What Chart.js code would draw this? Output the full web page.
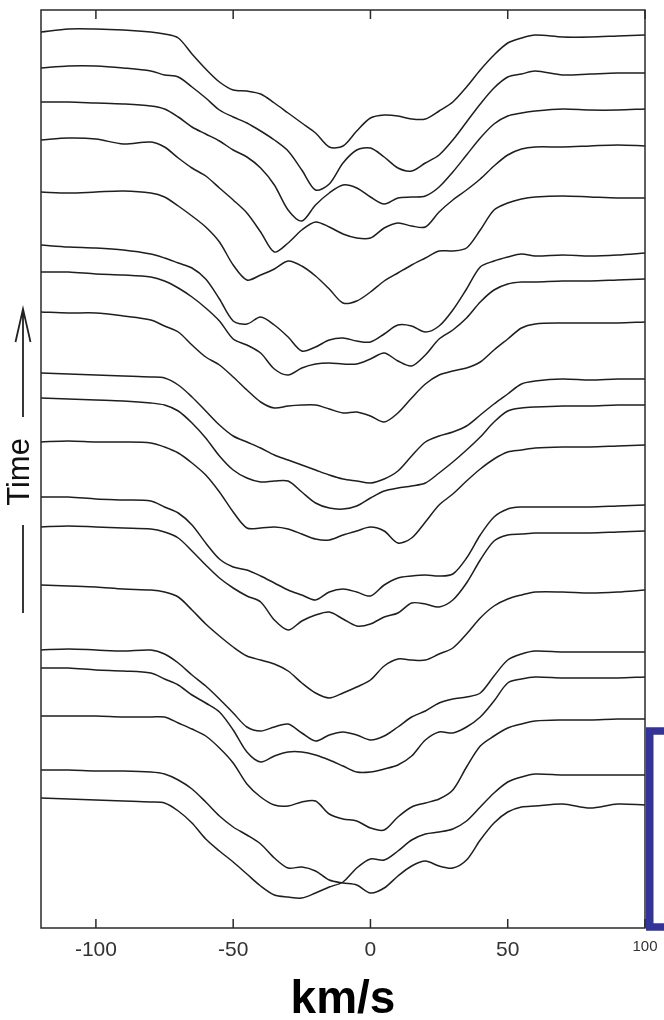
<!DOCTYPE html>
<html>
<head>
<meta charset="utf-8">
<title>Line profile time series</title>
<script src="https://cdn.jsdelivr.net/npm/chart.js@4.4.0/dist/chart.umd.min.js"></script>
<style>
  html, body { margin: 0; padding: 0; background: #fff; }
  canvas { display: block; }
</style>
</head>
<body>
<canvas id="profiles" width="664" height="1020"></canvas>
<script>
// velocity grid (km/s) shared by all profiles
const vel = [-120, -110, -100, -90, -80, -75, -70, -65, -60, -55, -50, -45, -40, -35, -30, -25, -20, -15, -10, -5,
             0, 5, 10, 15, 20, 25, 30, 35, 40, 45, 50, 55, 60, 70, 80, 90, 100];
const velTicks = [-100, -50, 0, 50, 100];

// normalised flux, earliest spectrum at the bottom of the stack
const flux01 = [1.000,1.015,1.015,1.010,1.000,0.990,0.970,0.890,0.815,0.750,0.710,0.705,0.690,0.645,0.595,0.545,0.495,0.425,0.430,0.505,0.570,0.585,0.580,0.565,0.565,0.605,0.650,0.725,0.810,0.885,0.945,0.970,0.985,0.975,0.975,0.980,0.985];
const flux02 = [1.000,1.010,1.010,1.000,0.985,0.965,0.955,0.905,0.850,0.790,0.755,0.725,0.685,0.640,0.585,0.490,0.390,0.420,0.525,0.590,0.600,0.555,0.500,0.485,0.525,0.565,0.640,0.730,0.820,0.900,0.955,0.970,0.985,0.965,0.970,0.975,0.975];
const flux03 = [1.000,1.000,0.995,0.990,0.980,0.965,0.925,0.875,0.840,0.805,0.760,0.725,0.670,0.585,0.460,0.405,0.485,0.545,0.585,0.570,0.525,0.490,0.520,0.525,0.530,0.575,0.650,0.735,0.820,0.890,0.930,0.945,0.955,0.965,0.960,0.960,0.965];
const flux04 = [1.000,1.010,1.005,0.980,0.990,0.965,0.910,0.860,0.820,0.760,0.700,0.635,0.540,0.440,0.485,0.550,0.590,0.565,0.530,0.510,0.510,0.560,0.585,0.570,0.565,0.640,0.700,0.750,0.805,0.870,0.925,0.955,0.965,0.965,0.970,0.975,0.970];
const flux05 = [1.000,0.995,1.000,1.005,0.995,0.975,0.930,0.880,0.825,0.750,0.635,0.560,0.585,0.615,0.655,0.630,0.580,0.515,0.445,0.455,0.500,0.555,0.595,0.635,0.670,0.705,0.705,0.720,0.810,0.910,0.945,0.965,0.975,0.980,0.975,0.970,0.970];
const flux06 = [1.000,0.990,0.985,0.975,0.955,0.935,0.910,0.885,0.830,0.730,0.620,0.605,0.640,0.600,0.540,0.470,0.490,0.525,0.535,0.520,0.515,0.555,0.600,0.595,0.565,0.595,0.675,0.780,0.890,0.920,0.940,0.955,0.945,0.950,0.945,0.950,0.960];
const flux07 = [1.000,1.000,0.990,0.985,0.975,0.955,0.920,0.875,0.820,0.755,0.665,0.635,0.595,0.515,0.485,0.520,0.540,0.545,0.540,0.540,0.565,0.595,0.555,0.530,0.585,0.665,0.710,0.770,0.850,0.910,0.940,0.950,0.950,0.955,0.955,0.960,0.965];
const flux08 = [1.000,0.995,0.995,0.980,0.960,0.930,0.900,0.835,0.775,0.735,0.675,0.610,0.550,0.520,0.530,0.535,0.535,0.515,0.495,0.500,0.480,0.450,0.495,0.570,0.640,0.685,0.705,0.720,0.750,0.810,0.865,0.920,0.940,0.945,0.945,0.945,0.950];
const flux09 = [1.000,0.995,0.990,0.985,0.980,0.975,0.940,0.880,0.810,0.740,0.685,0.655,0.625,0.590,0.565,0.540,0.515,0.490,0.470,0.460,0.450,0.470,0.510,0.585,0.655,0.685,0.705,0.735,0.790,0.845,0.895,0.945,0.960,0.970,0.965,0.970,0.970];
const flux10 = [1.000,0.995,0.990,0.985,0.975,0.965,0.935,0.875,0.800,0.710,0.640,0.600,0.580,0.585,0.585,0.530,0.475,0.450,0.445,0.460,0.500,0.535,0.550,0.560,0.575,0.625,0.680,0.740,0.805,0.880,0.935,0.950,0.955,0.960,0.960,0.965,0.965];
const flux11 = [1.000,1.005,1.000,1.000,0.995,0.975,0.945,0.895,0.835,0.750,0.650,0.570,0.570,0.575,0.565,0.540,0.515,0.510,0.535,0.555,0.575,0.555,0.495,0.520,0.600,0.685,0.740,0.805,0.865,0.915,0.950,0.960,0.970,0.975,0.975,0.980,0.985];
const flux12 = [1.000,1.000,0.990,0.985,0.980,0.950,0.920,0.860,0.770,0.690,0.650,0.635,0.605,0.570,0.535,0.510,0.485,0.525,0.540,0.525,0.505,0.560,0.595,0.605,0.610,0.605,0.615,0.695,0.810,0.900,0.940,0.950,0.950,0.950,0.950,0.955,0.960];
const flux13 = [1.000,1.005,1.000,0.995,0.990,0.975,0.945,0.880,0.810,0.745,0.695,0.655,0.625,0.535,0.485,0.530,0.560,0.575,0.540,0.505,0.515,0.550,0.570,0.620,0.615,0.600,0.635,0.720,0.835,0.930,0.960,0.965,0.970,0.970,0.970,0.975,0.980];
const flux14 = [1.000,0.995,0.990,0.980,0.975,0.965,0.940,0.875,0.805,0.745,0.690,0.645,0.625,0.605,0.570,0.510,0.460,0.435,0.460,0.490,0.525,0.595,0.630,0.625,0.625,0.655,0.685,0.755,0.835,0.895,0.930,0.950,0.965,0.965,0.960,0.965,0.975];
const flux15 = [1.000,1.005,1.000,0.995,1.000,0.980,0.935,0.875,0.820,0.755,0.685,0.615,0.595,0.615,0.630,0.585,0.545,0.575,0.590,0.575,0.550,0.570,0.615,0.665,0.695,0.735,0.755,0.765,0.785,0.870,0.950,0.980,0.995,0.990,0.990,0.990,0.990];
const flux16 = [1.000,1.000,0.990,0.985,0.975,0.945,0.915,0.865,0.825,0.780,0.690,0.580,0.530,0.560,0.580,0.580,0.565,0.540,0.510,0.480,0.480,0.495,0.515,0.560,0.640,0.680,0.675,0.705,0.755,0.835,0.925,0.945,0.955,0.950,0.950,0.950,0.955];
const flux17 = [1.000,1.000,1.000,0.995,0.995,0.995,0.965,0.935,0.900,0.840,0.765,0.660,0.595,0.555,0.550,0.570,0.575,0.510,0.485,0.475,0.440,0.430,0.495,0.545,0.565,0.585,0.630,0.745,0.850,0.900,0.940,0.960,0.975,0.980,0.980,0.985,0.985];
const flux18 = [1.000,1.000,0.995,0.995,0.990,0.980,0.950,0.905,0.840,0.770,0.715,0.675,0.630,0.560,0.510,0.515,0.495,0.450,0.435,0.425,0.385,0.410,0.470,0.520,0.545,0.520,0.510,0.550,0.650,0.735,0.790,0.815,0.820,0.830,0.810,0.830,0.825];
const flux19 = [1.000,0.995,0.990,0.985,0.980,0.975,0.935,0.875,0.795,0.735,0.680,0.620,0.560,0.515,0.505,0.500,0.525,0.555,0.580,0.650,0.695,0.690,0.735,0.790,0.820,0.830,0.845,0.885,0.955,1.025,1.080,1.105,1.120,1.115,1.115,1.115,1.115];

// vertical shift of each spectrum in the stack
const stackOffset = [3.48, 3.30, 3.13, 2.94, 2.68, 2.415, 2.28, 2.08, 1.775, 1.65, 1.43, 1.155, 1.005, 0.715, 0.39, 0.30, 0.06, -0.21, -0.35];

const fluxes = [flux01, flux02, flux03, flux04, flux05, flux06, flux07, flux08, flux09, flux10,
                flux11, flux12, flux13, flux14, flux15, flux16, flux17, flux18, flux19];

const datasets = fluxes.map(function (f, k) {
    return {
        data: vel.map(function (v, i) { return { x: v, y: f[i] + stackOffset[k] }; }),
        borderColor: '#1e1e1e',
        borderWidth: 1.5,
        pointRadius: 0,
        tension: 0.3,
        fill: false
    };
});

const FONT = '"Liberation Sans", Arial, Helvetica, sans-serif';

// frame, inward ticks, the time arrow and the bracket
const decor = {
    id: 'decor',
    afterDatasetsDraw(chart) {
        const ctx = chart.ctx;
        const a = chart.chartArea;
        const x = chart.scales.x;
        ctx.save();
        ctx.strokeStyle = '#2a2a2a';
        ctx.lineWidth = 1.5;
        ctx.strokeRect(a.left, a.top, a.right - a.left, a.bottom - a.top);
        velTicks.forEach(function (v) {
            const px = x.getPixelForValue(v);
            ctx.beginPath();
            ctx.moveTo(px, a.top);
            ctx.lineTo(px, a.top + 9);
            ctx.moveTo(px, a.bottom);
            ctx.lineTo(px, a.bottom - 9);
            ctx.stroke();
        });

        // "Time" with the arrow pointing up
        ctx.fillStyle = '#111';
        ctx.font = '31px ' + FONT;
        ctx.textAlign = 'center';
        ctx.textBaseline = 'alphabetic';
        ctx.save();
        ctx.translate(28.5, 472);
        ctx.rotate(-Math.PI / 2);
        ctx.fillText('Time', 0, 0);
        ctx.restore();

        ctx.strokeStyle = '#222';
        ctx.lineWidth = 1.8;
        ctx.beginPath();
        ctx.moveTo(23, 417);
        ctx.lineTo(23, 309);
        ctx.moveTo(15.5, 342);
        ctx.lineTo(23, 309);
        ctx.lineTo(30.5, 342);
        ctx.moveTo(23, 525);
        ctx.lineTo(23, 613);
        ctx.stroke();
        ctx.restore();
    },
    afterDraw(chart) {
        const ctx = chart.ctx;
        const a = chart.chartArea;
        ctx.save();
        ctx.strokeStyle = '#333399';
        ctx.lineWidth = 7.5;
        ctx.lineJoin = 'miter';
        ctx.beginPath();
        ctx.moveTo(670, 731);
        ctx.lineTo(a.right + 4.75, 731);
        ctx.lineTo(a.right + 4.75, a.bottom - 1);
        ctx.lineTo(670, a.bottom - 1);
        ctx.stroke();
        ctx.restore();
    }
};

const config = {
    type: 'line',
    data: { datasets: datasets },
    options: {
        responsive: false,
        animation: false,
        events: [],
        layout: { padding: { left: 41, right: 19, top: 10, bottom: 0 } },
        plugins: { legend: { display: false }, tooltip: { enabled: false } },
        scales: {
            x: {
                type: 'linear',
                min: -120,
                max: 100,
                grid: { display: false },
                border: { display: false },
                afterBuildTicks: function (scale) {
                    scale.ticks = velTicks.map(function (v) { return { value: v }; });
                },
                afterFit: function (scale) { scale.height = 92; },
                ticks: {
                    autoSkip: false,
                    maxRotation: 0,
                    padding: 2,
                    color: '#333',
                    font: function (c) {
                        const last = c.tick && c.tick.value === 100;
                        return { family: FONT, size: last ? 15 : 21 };
                    },
                    callback: function (v) { return String(v); }
                },
                title: {
                    display: true,
                    text: 'km/s',
                    color: '#000',
                    font: { family: FONT, size: 46, weight: 'bold', lineHeight: 1 },
                    padding: { top: 0, bottom: -3 }
                }
            },
            y: {
                display: false,
                min: 0,
                max: 4.59
            }
        }
    },
    plugins: [decor]
};

var profileChart = new Chart(document.getElementById('profiles'), config);
</script>
</body>
</html>
